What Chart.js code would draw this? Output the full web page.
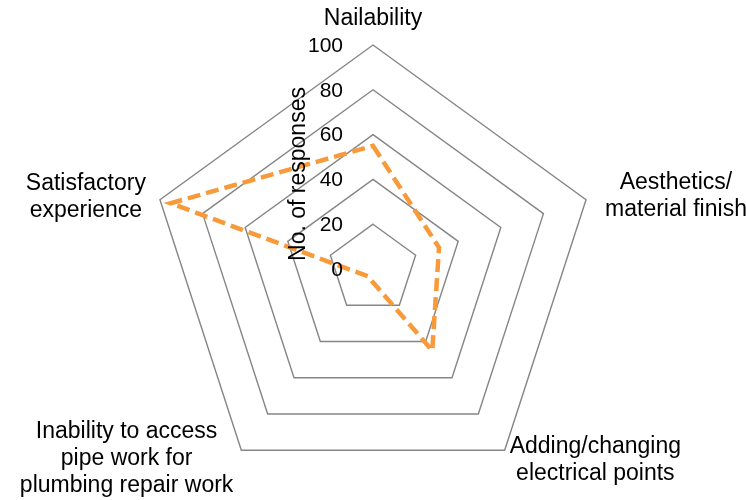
<!DOCTYPE html>
<html>
<head>
<meta charset="utf-8">
<title>No. of responses</title>
<script src="https://cdn.jsdelivr.net/npm/chart.js@4/dist/chart.umd.min.js"></script>
<style>
  html, body { margin: 0; padding: 0; background: #ffffff; }
  #wrap { width: 746px; height: 500px; }
</style>
</head>
<body>
<div id="wrap"><canvas id="chart" width="746" height="500"></canvas></div>
<script>
// Survey categories (each entry is one spoke; arrays are drawn as stacked lines)
const categories = [
  ['Nailability'],
  ['Aesthetics/', 'material finish'],
  ['Adding/changing', 'electrical points'],
  ['Inability to access', 'pipe work for', 'plumbing repair work'],
  ['Satisfactory', 'experience']
];
const responses = [55, 31, 45, 4, 95];
const tickValues = [0, 20, 40, 60, 80, 100];
const axisTitle = 'No. of responses';

const FONT = '"Liberation Sans", Arial, Helvetica, sans-serif';
const GRID = '#858585';
const ORANGE = '#f89a3a';

// How each spoke label sits against its outer vertex
const labelPlacement = [
  { side: 'top',    gap: 13 },
  { side: 'right',  gap: 19, dy: -4 },
  { side: 'right',  gap: 5,  dy: 10 },
  { side: 'left',   gap: 8,  dy: 8 },
  { side: 'left',   gap: 14, dy: -3 }
];

const overlay = {
  id: 'overlay',
  afterDraw(chart) {
    const ctx = chart.ctx;
    const r = chart.scales.r;
    ctx.save();
    ctx.fillStyle = '#000000';

    // Value ticks, right-aligned just left of the vertical spoke
    ctx.font = '21px ' + FONT;
    ctx.textAlign = 'right';
    ctx.textBaseline = 'middle';
    tickValues.forEach(v => {
      const d = r.getDistanceFromCenterForValue(v);
      ctx.fillText(String(v), r.xCenter - 30, r.yCenter - d + 1);
    });

    // Spoke labels, centred multi-line blocks
    ctx.font = '23px ' + FONT;
    const lh = 27;
    categories.forEach((lines, i) => {
      const p = r.getPointPosition(i, r.drawingArea);
      const pl = labelPlacement[i];
      const w = Math.max(...lines.map(s => ctx.measureText(s).width));
      const h = lines.length * lh;
      let cx, top;
      if (pl.side === 'top') {
        cx = p.x;
        top = p.y - pl.gap - h;
      } else if (pl.side === 'right') {
        cx = p.x + pl.gap + w / 2;
        top = p.y + (pl.dy || 0) - h / 2;
      } else {
        cx = p.x - pl.gap - w / 2;
        top = p.y + (pl.dy || 0) - h / 2;
      }
      ctx.textAlign = 'center';
      ctx.textBaseline = 'middle';
      lines.forEach((s, k) => ctx.fillText(s, cx, top + lh * k + lh / 2));
    });

    // Rotated axis title
    ctx.font = '23px ' + FONT;
    ctx.translate(r.xCenter - 74, r.yCenter - 95);
    ctx.rotate(-Math.PI / 2);
    ctx.textAlign = 'center';
    ctx.textBaseline = 'middle';
    ctx.fillText(axisTitle, 0, 0);
    ctx.restore();
  }
};

new Chart(document.getElementById('chart'), {
  type: 'radar',
  data: {
    labels: categories,
    datasets: [{
      label: axisTitle,
      data: responses,
      borderColor: ORANGE,
      backgroundColor: 'rgba(0,0,0,0)',
      borderWidth: 4.5,
      borderDash: [13, 6],
      borderCapStyle: 'butt',
      borderJoinStyle: 'miter',
      pointRadius: 0,
      pointHoverRadius: 0,
      fill: false,
      tension: 0
    }]
  },
  options: {
    responsive: false,
    devicePixelRatio: 1,
    animation: false,
    events: [],
    layout: { padding: { top: 45, bottom: 7, left: 0, right: 0 } },
    plugins: {
      legend: { display: false },
      tooltip: { enabled: false },
      title: { display: false }
    },
    scales: {
      r: {
        min: 0,
        max: 100,
        ticks: { stepSize: 20, display: false },
        grid: { color: GRID, lineWidth: 1.4 },
        angleLines: { display: false },
        pointLabels: { display: false }
      }
    }
  },
  plugins: [overlay]
});
</script>
</body>
</html>
